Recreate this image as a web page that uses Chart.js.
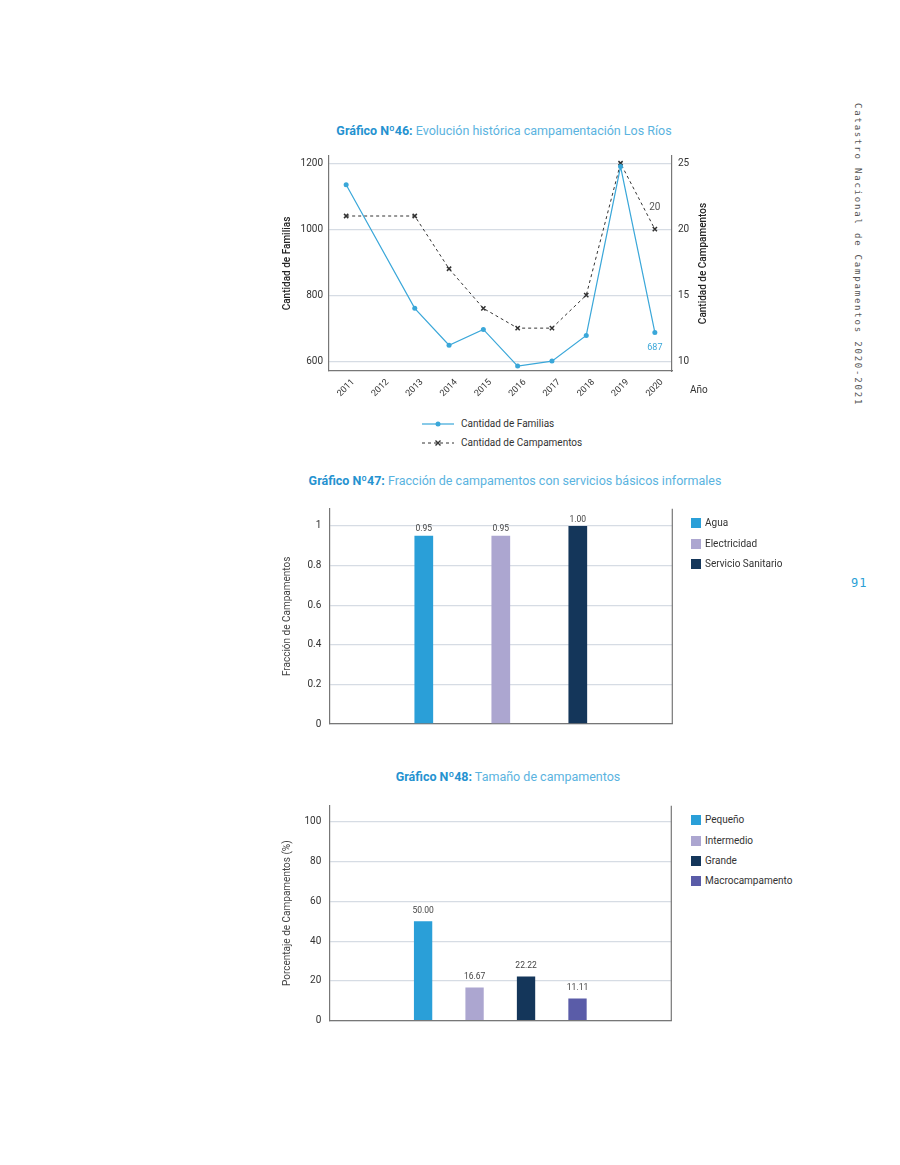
<!DOCTYPE html>
<html><head><meta charset="utf-8">
<script src="https://cdn.jsdelivr.net/npm/chart.js@4.4.1/dist/chart.umd.min.js"></script>
<style>
body{margin:0;background:#fff;font-family:Roboto,"Noto Sans",sans-serif;}
#page{position:relative;width:900px;height:1165px;overflow:hidden;background:#fff;}
canvas{position:absolute;}
.title{position:absolute;width:600px;text-align:center;font-size:12.5px;line-height:16px;color:#5ab3e0;white-space:nowrap;font-weight:400;}
.title b{color:#2592d0;font-weight:700;}
.leg{position:absolute;font-size:10px;color:#333;line-height:12px;white-space:nowrap;}
.sq{position:absolute;width:10px;height:10px;}
.side{position:absolute;left:852px;top:103px;writing-mode:vertical-rl;font-family:"DejaVu Sans Mono",monospace;font-size:9px;letter-spacing:1.8px;color:#555;line-height:12px;white-space:nowrap;}
.pnum{position:absolute;left:851px;top:576px;font-family:"DejaVu Sans Mono",monospace;font-size:12px;color:#2a9fd6;letter-spacing:1px;}
</style></head>
<body><div id="page">
<div class="side">Catastro Nacional de Campamentos 2020-2021</div>
<div class="pnum">91</div>

<div class="title" style="left:204px;top:123px;"><b>Gráfico Nº46:</b> Evolución histórica campamentación Los Ríos</div>
<canvas id="c1" width="436" height="260" style="left:277px;top:150px;"></canvas>
<div class="leg" style="left:690px;top:384px;">Año</div>
<div id="leg1"></div>

<div class="title" style="left:215px;top:473px;"><b>Gráfico Nº47:</b> Fracción de campamentos con servicios básicos informales</div>
<canvas id="c2" width="400" height="234" style="left:277px;top:499px;"></canvas>
<div id="leg2"></div>

<div class="title" style="left:208px;top:769px;"><b>Gráfico Nº48:</b> Tamaño de campamentos</div>
<canvas id="c3" width="400" height="233" style="left:277px;top:796px;"></canvas>
<div id="leg3"></div>
</div>
<script>
// ---------- DATA ----------
const years = ['2011','2012','2013','2014','2015','2016','2017','2018','2019','2020'];
const familias = [1135, null, 760, 648, 696, 585, 600, 678, 1190, 687];
const campamentos = [21, null, 21, 17, 14, 12.5, 12.5, 15, 25, 20];
const familiasTicks = [600, 800, 1000, 1200];
const campamentosTicks = [10, 15, 20, 25];
const lineSeries = ['Cantidad de Familias', 'Cantidad de Campamentos'];

const servicios = ['Agua', 'Electricidad', 'Servicio Sanitario'];
const fraccion = [0.95, 0.95, 1.00];
const fraccionTicks = [0, 0.2, 0.4, 0.6, 0.8, 1];

const tamanos = ['Pequeño', 'Intermedio', 'Grande', 'Macrocampamento'];
const porcentaje = [50.00, 16.67, 22.22, 11.11];
const porcentajeTicks = [0, 20, 40, 60, 80, 100];

// ---------- STYLE ----------
const BLUE = '#2a9fd8', LAV = '#aca6d0', NAVY = '#14365a', PURP = '#5a5ca8';
const palette2 = [BLUE, LAV, NAVY];
const palette3 = [BLUE, LAV, NAVY, PURP];
const GRID = '#d6dce4', AXIS = '#777';

Chart.defaults.font.family = 'Roboto, "Noto Sans", sans-serif';
Chart.defaults.color = '#333';

function fixV(width) {
  return s => { s.width = width; s.paddingTop = 0; s.paddingBottom = 0; };
}
function fixH(height) {
  return s => { s.height = height; s.paddingLeft = 0; s.paddingRight = 0; };
}

const rightBorder = {
  id: 'rightBorder',
  afterDraw(chart) {
    const {ctx, chartArea: a} = chart;
    ctx.save(); ctx.strokeStyle = AXIS; ctx.lineWidth = 1.2;
    ctx.beginPath(); ctx.moveTo(a.right, a.top); ctx.lineTo(a.right, a.bottom); ctx.stroke();
    ctx.restore();
  }
};

function barLabels(offset) {
  return {
    id: 'barLabels',
    afterDatasetsDraw(chart) {
      const ctx = chart.ctx;
      ctx.save();
      ctx.font = '8.5px Roboto, sans-serif'; ctx.fillStyle = '#444';
      ctx.textAlign = 'center'; ctx.textBaseline = 'middle';
      chart.data.datasets.forEach((ds, i) => {
        chart.getDatasetMeta(i).data.forEach((el, j) => {
          ctx.fillText(Number(ds.data[j]).toFixed(2), el.x, el.y - offset);
        });
      });
      ctx.restore();
    }
  };
}

// ---------- CHART 1 ----------
const lastLabels = {
  id: 'lastLabels',
  afterDatasetsDraw(chart) {
    const ctx = chart.ctx, n = years.length - 1;
    const p0 = chart.getDatasetMeta(0).data[n];
    const p1 = chart.getDatasetMeta(1).data[n];
    ctx.save(); ctx.textAlign = 'center'; ctx.textBaseline = 'middle';
    ctx.font = '9px Roboto, sans-serif'; ctx.fillStyle = '#3aa7d9';
    ctx.fillText(String(familias[n]), p0.x, p0.y + 15);
    ctx.font = '10px Roboto, sans-serif'; ctx.fillStyle = '#555';
    ctx.fillText(String(campamentos[n]), p1.x, p1.y - 22);
    ctx.restore();
  }
};

const rightTitle = {
  id: 'rightTitle',
  afterDraw(chart) {
    const s = chart.scales.y2, ctx = chart.ctx;
    ctx.save();
    ctx.translate(s.right - 10, (s.top + s.bottom) / 2);
    ctx.rotate(-Math.PI / 2);
    ctx.font = '500 10px Roboto, sans-serif'; ctx.fillStyle = '#222';
    ctx.textAlign = 'center'; ctx.textBaseline = 'middle';
    ctx.fillText(lineSeries[1], 0, 0);
    ctx.restore();
  }
};

new Chart(document.getElementById('c1'), {
  type: 'line',
  data: {
    labels: years,
    datasets: [
      {label: lineSeries[0], data: familias, yAxisID: 'y', borderColor: '#3aa7d9', backgroundColor: '#3aa7d9',
       borderWidth: 1.2, pointRadius: 2.5, pointBorderWidth: 0, spanGaps: true, tension: 0},
      {label: lineSeries[1], data: campamentos, yAxisID: 'y2', borderColor: '#333', backgroundColor: '#333',
       borderWidth: 1, borderDash: [3, 3], pointStyle: 'crossRot', pointRadius: 3, pointBorderWidth: 1.5,
       spanGaps: true, tension: 0}
    ]
  },
  options: {
    responsive: false, animation: false,
    layout: {padding: {top: 6, left: 0, right: 0, bottom: 0}},
    plugins: {legend: {display: false}, tooltip: {enabled: false}},
    scales: {
      x: {offset: true, grid: {display: false, drawTicks: false}, border: {color: AXIS, width: 1.2},
          ticks: {font: {size: 9}, color: '#333', maxRotation: 45, minRotation: 45, padding: 6, autoSkip: false, labelOffset: 7},
          afterFit: fixH(39)},
      y: {position: 'left', min: 570, max: 1222,
          afterBuildTicks: s => { s.ticks = familiasTicks.map(v => ({value: v})); },
          grid: {color: GRID, lineWidth: 1.2, drawTicks: false}, border: {color: AXIS, width: 1.2},
          ticks: {font: {size: 10}, color: '#333', padding: 6, callback: v => String(v)},
          title: {display: true, text: lineSeries[0], font: {size: 10, weight: '500'}, color: '#222'},
          afterFit: fixV(52)},
      y2: {position: 'right', min: 9.25, max: 25.55,
          afterBuildTicks: s => { s.ticks = campamentosTicks.map(v => ({value: v})); },
          grid: {display: false, drawTicks: false}, border: {color: AXIS, width: 1.2},
          ticks: {font: {size: 10}, color: '#333', padding: 6, callback: v => String(v)},
          title: {display: false},
          afterFit: fixV(41)}
    }
  },
  plugins: [lastLabels, rightTitle]
});

// legend 1
(function(){
  const el = document.getElementById('leg1');
  const rows = [423.5, 443.3];
  let html = '';
  lineSeries.forEach((name, i) => {
    const y = rows[i];
    let svg;
    if (i === 0) {
      svg = '<svg width="32" height="8" style="position:absolute;left:421.5px;top:' + (y - 4) + 'px"><line x1="0" y1="4" x2="32" y2="4" stroke="#3aa7d9" stroke-width="1.2"/><circle cx="16" cy="4" r="2.5" fill="#3aa7d9"/></svg>';
    } else {
      svg = '<svg width="32" height="8" style="position:absolute;left:421.5px;top:' + (y - 4) + 'px"><line x1="0" y1="4" x2="32" y2="4" stroke="#333" stroke-width="1" stroke-dasharray="3,3"/><path d="M13.5 1.5 L18.5 6.5 M18.5 1.5 L13.5 6.5" stroke="#333" stroke-width="1.4"/></svg>';
    }
    html += svg + '<div class="leg" style="left:461px;top:' + (y - 6) + 'px;">' + name + '</div>';
  });
  el.innerHTML = html;
})();

function squareLegend(id, names, colors, top) {
  let html = '';
  names.forEach((n, i) => {
    const y = top + i * 20.3;
    html += '<div class="sq" style="left:690.7px;top:' + (y - 5) + 'px;background:' + colors[i] + '"></div>' +
            '<div class="leg" style="left:705px;top:' + (y - 6) + 'px;">' + n + '</div>';
  });
  document.getElementById(id).innerHTML = html;
}

// ---------- CHART 2 ----------
new Chart(document.getElementById('c2'), {
  type: 'bar',
  data: {
    labels: [''],
    datasets: servicios.map((s, i) => ({label: s, data: [fraccion[i]], backgroundColor: palette2[i],
      categoryPercentage: 0.6735, barPercentage: 0.243}))
  },
  options: {
    responsive: false, animation: false,
    layout: {padding: {top: 9.7, right: 4.7, bottom: 9, left: 0}},
    plugins: {legend: {display: false}, tooltip: {enabled: false}},
    scales: {
      x: {grid: {display: false, drawTicks: false}, ticks: {display: false}, border: {color: AXIS, width: 1.2},
          afterFit: fixH(0)},
      y: {min: 0, max: 1.087,
          afterBuildTicks: s => { s.ticks = fraccionTicks.map(v => ({value: v})); },
          grid: {color: GRID, lineWidth: 1.3, drawTicks: false}, border: {color: AXIS, width: 1.2},
          ticks: {font: {size: 10}, color: '#333', padding: 8, callback: v => String(v)},
          title: {display: true, text: 'Fracción de Campamentos', font: {size: 10}, color: '#444'},
          afterFit: fixV(52.3)}
    }
  },
  plugins: [rightBorder, barLabels(6.5)]
});
squareLegend('leg2', servicios, palette2, 523.3);

// ---------- CHART 3 ----------
new Chart(document.getElementById('c3'), {
  type: 'bar',
  data: {
    labels: [''],
    datasets: tamanos.map((s, i) => ({label: s, data: [porcentaje[i]], backgroundColor: palette3[i],
      categoryPercentage: 0.602, barPercentage: 0.356}))
  },
  options: {
    responsive: false, animation: false,
    layout: {padding: {top: 9.7, right: 5.7, bottom: 8.3, left: 0}},
    plugins: {legend: {display: false}, tooltip: {enabled: false}},
    scales: {
      x: {grid: {display: false, drawTicks: false}, ticks: {display: false}, border: {color: AXIS, width: 1.2},
          afterFit: fixH(0)},
      y: {min: 0, max: 108.2,
          afterBuildTicks: s => { s.ticks = porcentajeTicks.map(v => ({value: v})); },
          grid: {color: GRID, lineWidth: 1.3, drawTicks: false}, border: {color: AXIS, width: 1.2},
          ticks: {font: {size: 10}, color: '#333', padding: 8, callback: v => String(v)},
          title: {display: true, text: 'Porcentaje de Campamentos (%)', font: {size: 10}, color: '#444'},
          afterFit: fixV(52.3)}
    }
  },
  plugins: [rightBorder, barLabels(10.5)]
});
squareLegend('leg3', tamanos, palette3, 820.3);
</script>
</body></html>
